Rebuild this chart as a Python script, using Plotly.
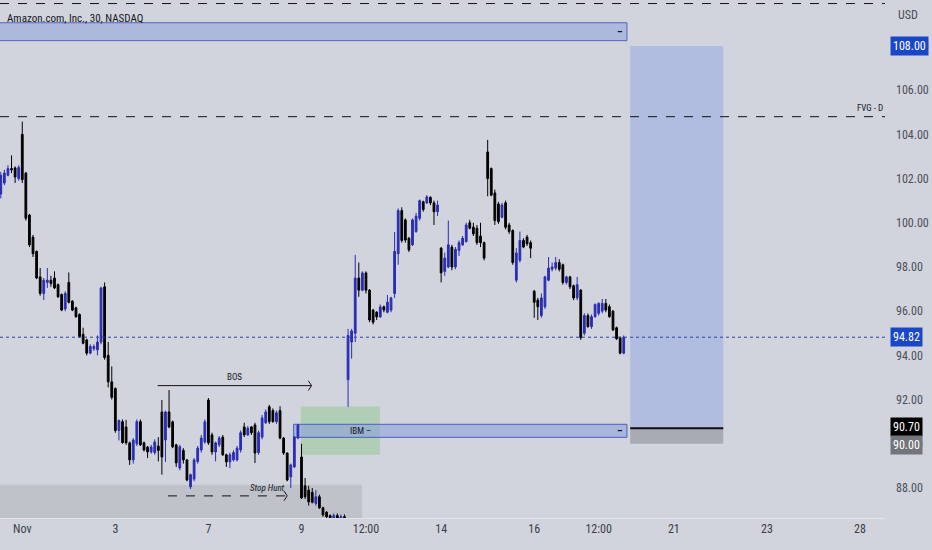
import plotly.graph_objects as go

# ---- data (30-min candles, index 0 = Oct 31 afternoon) ----
opens = [101.3,101.8,102.15,102.45,102.48,102.0,104.0,102.25,100.35,99.35,98.7,97.55,96.8,97.3,97.4,97.5,97.2,96.75,96.1,
 97.3,96.45,96.15,95.85,94.95,94.7,94.1,94.3,94.25,94.6,97.1,94.0,92.8,
 92.5,90.6,91.0,90.76,90.04,89.27,90.0,91.0,90.04,89.85,89.63,89.6,89.9,
 91.44,90.17,91.44,90.99,89.95,88.9,89.7,89.27,88.05,88.4,89.2,89.72,90.08,
 91.98,90.4,89.63,89.95,90.3,89.5,89.18,89.27,89.27,89.72,90.76,90.4,90.76,
 90.85,89.6,90.3,90.95,91.67,91.5,91.0,91.5,90.26,89.58,88.5,88.95,90.26,
 89.4,88.1,87.9,87.8,87.3,87.6,87.1,86.9,86.75,86.6,86.75,86.6,86.7,
 92.9,94.6,95.0,97.5,96.95,97.73,96.95,96.05,95.95,95.74,96.2,95.95,96.05,
 96.8,98.6,100.55,100.13,99.3,99.0,99.6,100.2,100.95,100.9,101.15,100.9,100.5,
 98.85,97.8,98.0,98.9,98.0,98.75,99.0,99.15,100.0,99.8,99.75,99.4,99.1,
 103.2,102.45,101.35,100.85,100.25,100.9,99.9,99.65,97.4,98.3,99.2,99.35,99.1,
 96.9,96.5,95.8,96.2,97.4,97.9,97.95,98.2,98.1,97.3,97.55,97.15,96.6,
 96.95,95.0,95.8,95.3,95.75,95.9,96.0,96.35,96.2,96.0,95.25,94.8,94.1]
highs = [102.3,102.4,102.6,103.05,102.55,102.6,104.58,102.3,100.4,99.45,98.75,97.95,97.5,97.95,97.6,97.8,97.25,96.8,96.9,
 97.75,96.5,96.2,95.9,95.25,94.75,94.5,94.5,94.9,97.1,97.3,94.6,93.5,
 92.55,91.1,91.1,91.08,90.1,90.25,91.1,91.1,90.1,89.9,89.95,90.2,90.3,
 91.98,91.5,92.43,91.05,90.0,89.95,89.8,89.3,88.65,89.35,89.9,90.4,91.1,
 92.07,90.5,90.1,90.35,90.4,89.55,89.6,89.7,89.9,90.6,90.95,90.8,90.8,
 90.95,90.6,91.3,91.55,91.76,91.6,91.5,91.7,90.3,89.6,89.1,90.35,90.9,
 90.0,88.45,88.1,88.0,87.9,87.7,87.15,86.95,86.8,86.85,86.85,86.8,86.8,
 95.2,95.2,98.55,98.2,97.8,97.8,97.0,96.1,96.0,96.3,96.25,96.73,96.65,
 99.58,100.65,100.7,100.2,99.35,100.2,100.45,101.05,101.0,101.25,101.2,101.0,101.0,
 98.9,98.65,100.1,99.0,98.9,99.2,99.4,100.0,100.13,100.0,99.9,100.0,99.15,
 103.75,102.5,101.5,100.95,100.9,101.0,100.0,99.7,98.85,99.6,99.3,99.45,99.2,
 96.96,96.6,96.8,97.6,98.45,98.2,98.45,98.35,98.15,97.6,97.6,97.2,97.55,
 97.0,95.9,95.9,95.85,96.35,96.4,96.55,96.55,96.3,96.05,95.3,94.85,94.9]
lows = [101.1,101.7,102.1,102.25,101.8,101.9,101.8,100.1,98.9,98.45,97.45,96.7,96.5,97.05,97.1,97.0,96.6,96.0,96.0,
 96.35,96.0,95.7,94.8,94.5,94.0,94.05,94.2,94.0,94.5,93.8,92.55,92.0,
 90.5,90.15,90.0,89.95,89.04,89.1,89.9,89.9,89.65,89.35,89.55,89.5,89.2,
 88.6,89.18,90.7,89.8,88.95,88.8,89.1,88.3,87.95,88.3,89.1,89.6,90.0,
 89.95,89.5,89.2,89.85,89.45,88.95,88.9,89.2,89.2,89.6,90.3,90.35,90.4,
 89.13,89.5,90.2,90.9,90.9,90.95,90.9,90.2,89.5,88.3,88.0,88.9,90.2,
 87.5,87.5,87.2,87.3,87.2,87.05,86.7,86.6,86.4,86.4,86.4,86.3,86.2,
 91.67,93.85,94.6,96.65,96.9,96.8,95.5,95.4,95.6,95.7,95.95,95.9,95.95,
 96.6,98.1,99.1,99.1,98.68,98.95,99.55,100.1,100.5,100.85,100.8,99.9,100.3,
 97.3,97.6,97.95,97.85,97.9,98.5,98.95,99.1,99.7,99.4,99.0,98.9,98.3,
 101.2,101.2,99.9,99.95,100.2,99.7,99.5,98.1,97.3,98.2,98.85,98.95,98.4,
 95.7,95.6,95.7,96.1,97.35,97.8,97.85,97.8,97.2,97.2,97.0,96.5,96.5,
 94.7,94.9,95.25,95.2,95.7,95.8,95.9,95.95,95.7,95.1,94.7,94.05,94.05]
closes = [102.15,102.25,102.45,102.4,102.07,102.5,101.95,100.2,99.0,98.6,97.5,96.8,97.4,97.4,97.25,97.05,96.65,96.05,96.8,
 96.4,96.05,95.75,94.85,94.55,94.1,94.4,94.4,94.6,97.05,93.9,92.8,92.1,
 90.6,91.05,90.05,90.04,89.27,90.17,91.0,89.95,89.72,89.63,89.85,90.08,89.7,
 89.4,91.44,90.76,89.86,89.13,89.86,89.27,88.36,88.6,89.27,89.8,90.26,90.99,
 90.04,89.63,90.04,90.26,89.5,89.18,89.5,89.6,89.8,90.5,90.4,90.7,90.5,
 89.58,90.5,91.17,91.44,91.0,91.0,91.4,90.26,89.58,88.36,89.04,90.3,90.85,
 87.55,87.6,87.37,87.35,87.6,87.1,86.78,86.7,86.6,86.75,86.6,86.7,86.55,
 94.9,95.1,97.5,96.95,97.73,96.95,95.6,95.5,95.74,96.19,96.05,96.4,96.6,
 98.7,100.55,99.2,99.22,98.77,100.13,100.3,101.0,100.6,101.17,100.9,100.5,100.8,
 97.73,98.4,99.0,98.0,98.8,99.1,99.3,99.9,99.75,99.5,99.1,99.1,98.4,
 102.0,101.25,100.1,100.05,100.8,99.8,99.6,98.2,98.63,99.2,98.9,99.05,98.85,
 96.4,96.2,96.6,97.55,97.95,98.0,98.2,97.9,97.3,97.55,97.1,96.6,97.2,
 94.8,95.8,95.3,95.75,96.3,96.35,96.35,96.05,95.75,95.15,94.75,94.1,94.82]

tick_idx = [6, 32, 58, 84, 102, 123, 149, 167, 188, 214, 240]
tick_text = ["Nov", "3", "7", "9", "12:00", "14", "16", "12:00", "21", "23", "28"]
price_ticks = [88, 90, 92, 94, 96, 98, 100, 102, 104, 106, 108]

last_price = 94.82
target_price = 108.00
entry_price = 90.70
stop_price = 90.00
fvg_level = 104.80
top_level = 109.92
top_zone = (108.24, 109.05)
ibm_zone = (90.29, 90.88)
green_zone = (89.50, 91.68)
low_zone = (85.0, 88.14)
bos_level = 92.63
hunt_level = 87.64

FONT = "Liberation Sans Narrow, Roboto Condensed, DejaVu Sans Condensed, Arial Narrow, sans-serif"
BG = "#d1d4dc"
BLUE = "#2a2db4"

x = list(range(len(opens)))
fig = go.Figure(go.Candlestick(
    x=x, open=opens, high=highs, low=lows, close=closes,
    increasing=dict(line=dict(color=BLUE, width=1), fillcolor=BLUE),
    decreasing=dict(line=dict(color="#000000", width=1), fillcolor="#000000"),
    whiskerwidth=0, hoverinfo="skip", showlegend=False))

shapes = []
# background zones
shapes.append(dict(type="rect", xref="x", yref="y", x0=-2, x1=100.9, y0=low_zone[0], y1=low_zone[1],
                   fillcolor="#c0c2ca", line=dict(width=0), layer="below"))
shapes.append(dict(type="rect", xref="x", yref="y", x0=-2, x1=174.9, y0=top_zone[0], y1=top_zone[1],
                   fillcolor="#adb9dc", line=dict(color="#5466bb", width=1), layer="below"))
shapes.append(dict(type="rect", xref="x", yref="y", x0=175.8, x1=201.8, y0=entry_price, y1=target_price,
                   fillcolor="#b0bde0", line=dict(width=0), layer="below"))
shapes.append(dict(type="rect", xref="x", yref="y", x0=175.8, x1=201.8, y0=stop_price, y1=entry_price,
                   fillcolor="#a9abb4", line=dict(width=0), layer="below"))
shapes.append(dict(type="line", xref="x", yref="y", x0=175.8, x1=201.8, y0=entry_price, y1=entry_price,
                   line=dict(color="#111111", width=2)))
shapes.append(dict(type="rect", xref="x", yref="y", x0=83.8, x1=105.9, y0=green_zone[0], y1=green_zone[1],
                   fillcolor="rgba(150,200,150,0.55)", line=dict(width=0), layer="below"))
shapes.append(dict(type="rect", xref="x", yref="y", x0=81.8, x1=174.9, y0=ibm_zone[0], y1=ibm_zone[1],
                   fillcolor="rgba(140,160,220,0.6)", line=dict(color="#4a5fc0", width=1), layer="below"))
# horizontal levels
shapes.append(dict(type="line", xref="paper", yref="y", x0=0, x1=1, y0=top_level, y1=top_level,
                   line=dict(color="#111111", width=1, dash="dash")))
shapes.append(dict(type="line", xref="paper", yref="y", x0=0, x1=1, y0=fvg_level, y1=fvg_level,
                   line=dict(color="#111111", width=1, dash="dash")))
shapes.append(dict(type="line", xref="paper", yref="y", x0=0, x1=1, y0=last_price, y1=last_price,
                   line=dict(color="#2f3fb0", width=1, dash="dot")))
# BOS and stop hunt arrows
shapes.append(dict(type="line", xref="x", yref="y", x0=43.8, x1=86.8, y0=bos_level, y1=bos_level,
                   line=dict(color="#111111", width=1)))
shapes.append(dict(type="line", xref="x", yref="y", x0=46.7, x1=80.0, y0=hunt_level, y1=hunt_level,
                   line=dict(color="#111111", width=1, dash="dash")))
for lvl, xe in [(bos_level, 86.8), (hunt_level, 80.0)]:
    shapes.append(dict(type="path", xref="x", yref="y",
                       path=f"M {xe-0.9},{lvl+0.22} L {xe},{lvl} L {xe-0.9},{lvl-0.22}",
                       line=dict(color="#111111", width=1)))

annotations = []
annotations.append(dict(xref="paper", yref="paper", x=0.006, y=0.965, xanchor="left", yanchor="middle",
                        text="Amazon.com, Inc., 30, NASDAQ", showarrow=False,
                        font=dict(family=FONT, size=11, color="#131722")))
annotations.append(dict(xref="paper", yref="y", x=1, y=fvg_level, xanchor="right", yanchor="bottom", yshift=2,
                        text="FVG - D", showarrow=False, font=dict(family=FONT, size=9, color="#131722")))
annotations.append(dict(xref="x", yref="y", x=65.3, y=bos_level, yanchor="bottom", yshift=2,
                        text="BOS", showarrow=False, font=dict(family=FONT, size=9, color="#131722")))
annotations.append(dict(xref="x", yref="y", x=74.5, y=hunt_level, yanchor="bottom", yshift=1,
                        text="<i>Stop Hunt</i>", showarrow=False, font=dict(family=FONT, size=9, color="#131722")))
annotations.append(dict(xref="x", yref="y", x=100.5, y=sum(ibm_zone) / 2, yanchor="middle",
                        text="IBM –", showarrow=False, font=dict(family=FONT, size=9, color="#131722")))
for zone in (top_zone, ibm_zone):
    annotations.append(dict(xref="x", yref="y", x=173, y=sum(zone) / 2, yanchor="middle",
                            text="<b>–</b>", showarrow=False, font=dict(family=FONT, size=10, color="#131722")))
annotations.append(dict(xref="paper", yref="paper", x=1, xanchor="left", xshift=11, y=0.971, yanchor="middle",
                        text="USD", showarrow=False, font=dict(family=FONT, size=12, color="#4b4f5a")))
for val, bg, ys in [(target_price, "#1a46c8", 0), (last_price, "#1a46c8", 0),
                    (entry_price, "#000000", 1), (stop_price, "#72757c", -1)]:
    annotations.append(dict(xref="paper", yref="y", x=1, xanchor="left", xshift=5, y=val, yanchor="middle",
                            yshift=ys, text=f"{val:.2f}", showarrow=False, bgcolor=bg, borderpad=2,
                            font=dict(family=FONT, size=12, color="#ffffff")))

fig.update_layout(
    width=932, height=550,
    margin=dict(l=0, r=47, t=0, b=32, autoexpand=False),
    paper_bgcolor=BG, plot_bgcolor=BG,
    shapes=shapes, annotations=annotations,
    showlegend=False, hovermode=False,
    xaxis=dict(range=[-0.22, 246.98], tickvals=tick_idx, ticktext=tick_text, showgrid=False,
               zeroline=False, rangeslider=dict(visible=False), showline=True, linecolor="#e2e4ea",
               linewidth=1, ticks="", automargin=False,
               tickfont=dict(family=FONT, size=12, color="#3a3e48"), fixedrange=True),
    yaxis=dict(range=[86.64, 110.08], side="right", tickvals=price_ticks,
               ticktext=[f"{v:.2f}" for v in price_ticks], showgrid=False, zeroline=False,
               ticks="", ticklabelstandoff=10, automargin=False,
               tickfont=dict(family=FONT, size=12, color="#4b4f5a"), fixedrange=True),
)

fig.write_html("out.html", config={"displayModeBar": False},
               post_script="document.body.style.margin='0';document.body.style.overflow='hidden';"
                           "document.body.style.background='" + BG + "';")
